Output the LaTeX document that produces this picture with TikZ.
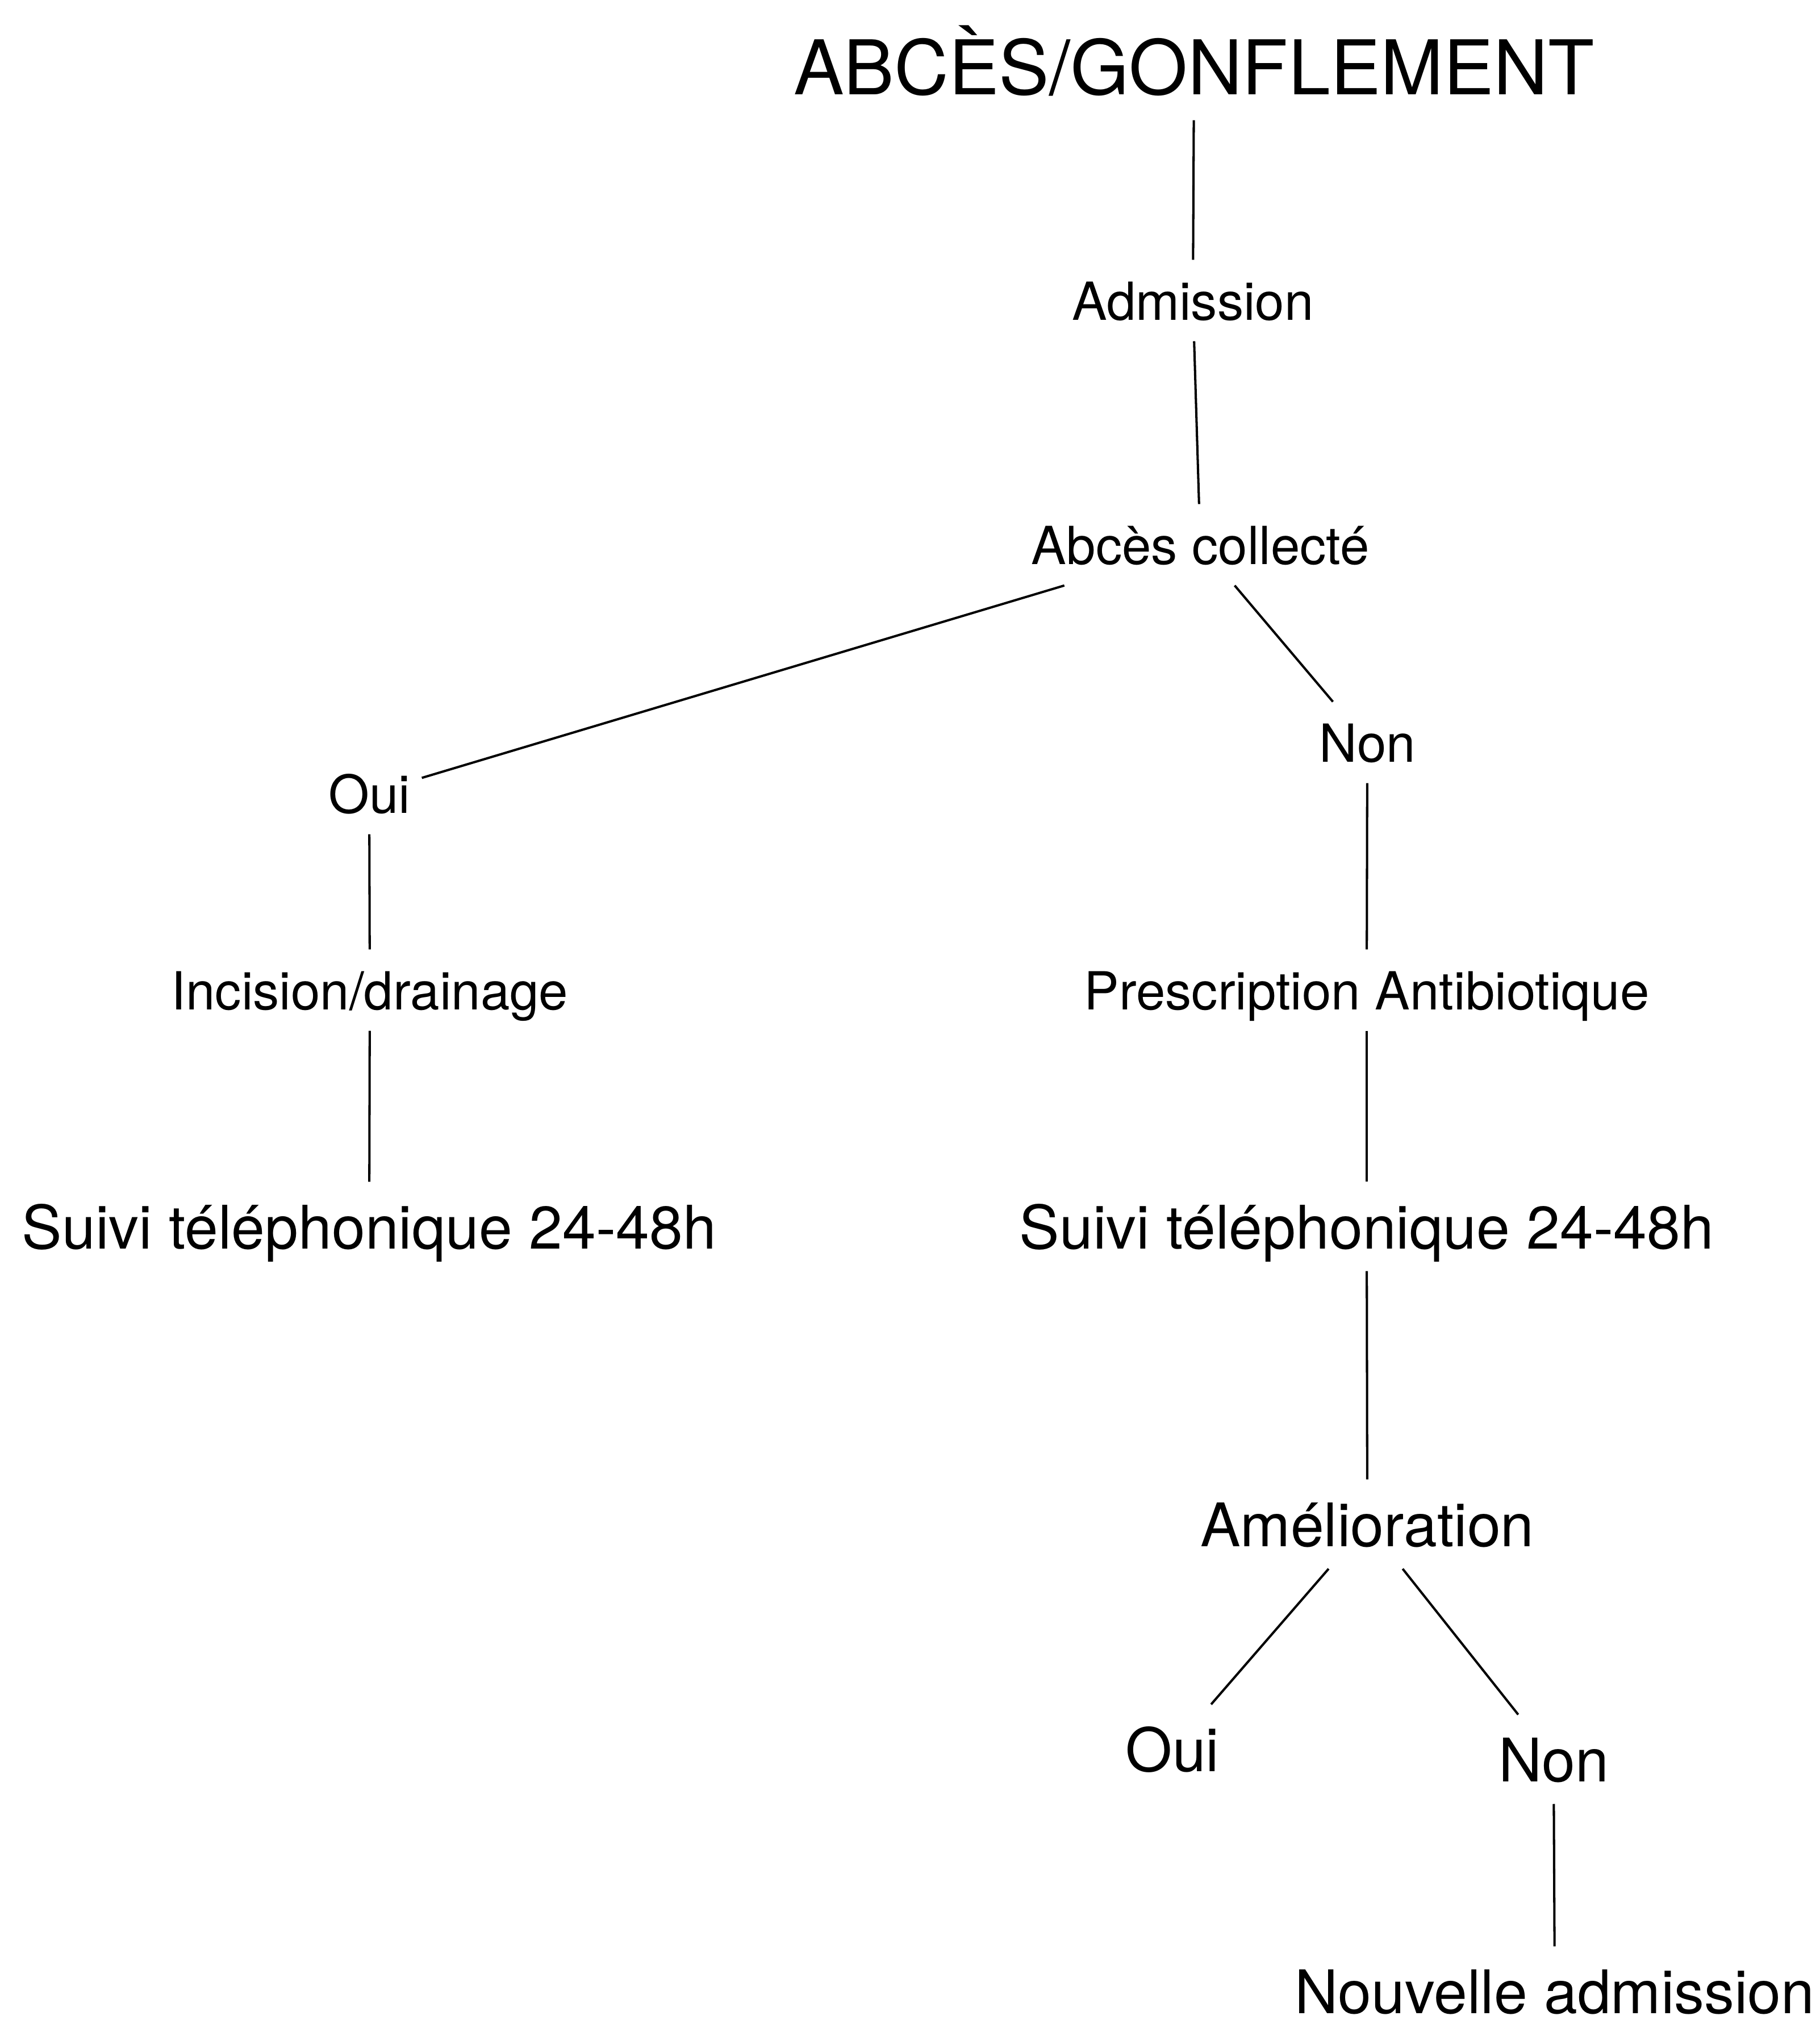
\documentclass[tikz,border=0pt]{standalone}
\usepackage{fontspec}
\setmainfont{TeX Gyre Heros}
\tikzset{
	smalltext/.style={font=\fontsize{26.3pt}{30pt}\selectfont, anchor=base, inner xsep=0.2cm, inner ysep=0.25cm, text height=0.8cm, text depth=0.12cm},
	bigtext/.style={font=\fontsize{30.1pt}{34pt}\selectfont, anchor=base, inner xsep=0.2cm, inner ysep=0.25cm, text height=0.92cm, text depth=0.14cm},
	titletext/.style={font=\fontsize{37.8pt}{42pt}\selectfont, anchor=base, inner xsep=0.2cm, inner ysep=0.25cm, text height=1.1cm, text depth=0.2cm},
	link/.style={line width=1.15pt}
}

\begin{document}
\begin{tikzpicture}
			%%%%% START %%%%%
			
			\useasboundingbox (0, 0) rectangle (32.04, -35.56);
			
			\node[titletext] (gonflement) at (21.02, -1.66) {ABCÈS/GONFLEMENT};
			\node[smalltext] (admission) at (21.00, -5.63) {Admission};
			\node[smalltext] (collecte) at (21.13, -9.93) {Abcès collecté};
			
			\node[smalltext] (oui1) at (6.50, -14.31) {Oui};
			\node[smalltext] (incision) at (6.51, -17.77) {Incision/drainage};
			\node[bigtext] (suivi1) at (6.50, -21.98) {Suivi téléphonique 24-48h};
			
			\node[smalltext] (non1) at (24.07, -13.41) {Non};
			\node[smalltext] (prescription) at (24.06, -17.77) {Prescription Antibiotique};
			\node[bigtext] (suivi2) at (24.06, -21.98) {Suivi téléphonique 24-48h};
			\node[bigtext] (amelioration) at (24.07, -27.22) {Amélioration};
			
			\node[bigtext] (oui2) at (20.64, -31.18) {Oui};
			\node[bigtext] (non2) at (27.35, -31.36) {Non};
			\node[bigtext] (nouvelle) at (27.37, -35.44) {Nouvelle admission};
			
			\draw[link] (gonflement) -- (admission);
			\draw[link] (admission) -- (collecte);
			\draw[link] (collecte) -- (oui1);
			\draw[link] (collecte) -- (non1);
			\draw[link] (oui1) -- (incision);
			\draw[link] (incision) -- (suivi1);
			\draw[link] (non1) -- (prescription);
			\draw[link] (prescription) -- (suivi2);
			\draw[link] (suivi2) -- (amelioration);
			\draw[link] (amelioration) -- (oui2);
			\draw[link] (amelioration) -- (non2);
			\draw[link] (non2) -- (nouvelle);
			
			%%%%% END %%%%%
\end{tikzpicture}
\end{document}
